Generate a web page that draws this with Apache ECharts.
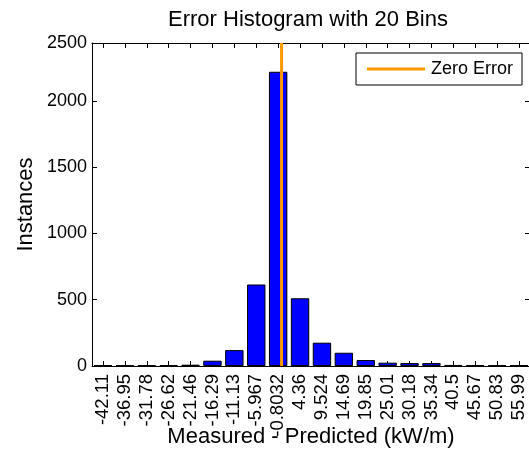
<!DOCTYPE html>
<html>
<head>
<meta charset="utf-8">
<script src="https://cdn.jsdelivr.net/npm/echarts@6/dist/echarts.min.js"></script>
<style>
html,body{margin:0;padding:0;background:#fff;}
#chart{width:529px;height:452px;}
</style>
</head>
<body>
<div id="chart"></div>
<script>
// Tick labels (bin centres) of the histogram
const binLabels = ['-42.11','-36.95','-31.78','-26.62','-21.46','-16.29','-11.13','-5.967','-0.8032','4.36','9.524','14.69','19.85','25.01','30.18','35.34','40.5','45.67','50.83','55.99'];
// Instances per bin
const binCounts = [6, 5, 6, 7, 10, 40, 120, 615, 2220, 511, 176, 100, 45, 25, 22, 22, 8, 6, 5, 6];
// Zero error reference line (x value)
const zeroError = [0];
const yTickLabels = ['0','500','1000','1500','2000','2500'];
const yMax = 2437;

const centers = binLabels.map(Number);
const binW = (centers[centers.length-1] - centers[0]) / (centers.length - 1);
const xMin = centers[0] - binW/2;
const xMax = centers[centers.length-1] + binW/2;

const FONT = 'Liberation Sans, Arial, sans-serif';
const chart = echarts.init(document.getElementById('chart'), null, {renderer:'canvas'});
const grid = {left: 92, top: 43, width: 438, height: 323, containLabel: false, outerBoundsMode: 'none'};

chart.setOption({
  animation: false,
  backgroundColor: '#fff',
  title: {
    text: 'Error Histogram with 20 Bins',
    left: 308, top: 9, padding: 0, textAlign: 'center',
    textStyle: {fontFamily: FONT, fontSize: 22, fontWeight: 'normal', color: '#000'}
  },
  legend: {
    data: [{name: 'Zero Error', icon: 'rect'}],
    left: 356, top: 53,
    padding: [7, 9, 7, 11],
    itemWidth: 58, itemHeight: 3, itemGap: 6,
    borderColor: '#000', borderWidth: 1, backgroundColor: '#fff',
    textStyle: {fontFamily: FONT, fontSize: 18, color: '#000', padding: [0,0,0,1]}
  },
  grid: grid,
  xAxis: [
    {
      type: 'category', data: binLabels, position: 'bottom', gridIndex: 0,
      name: 'Measured - Predicted (kW/m)', nameLocation: 'middle', nameGap: 60,
      nameMoveOverlap: false,
      nameTextStyle: {fontFamily: FONT, fontSize: 22, color: '#000'},
      axisLine: {show: true, onZero: false, lineStyle: {color: '#000', width: 1}},
      axisTick: {show: true, inside: true, alignWithLabel: true, length: 5, lineStyle: {color: '#000'}},
      axisLabel: {rotate: 90, margin: 8, interval: 0, fontFamily: FONT, fontSize: 18.5, color: '#000'},
      splitLine: {show: false}
    },
    {
      type: 'category', data: binLabels, position: 'top', gridIndex: 0,
      axisLine: {show: true, onZero: false, lineStyle: {color: '#000', width: 1}},
      axisTick: {show: true, inside: true, alignWithLabel: true, length: 5, interval: 0, lineStyle: {color: '#000'}},
      axisLabel: {show: false}, splitLine: {show: false}
    },
    {
      type: 'value', min: xMin, max: xMax, show: false, gridIndex: 0,
      axisLine: {onZero: false}
    }
  ],
  yAxis: [
    {
      type: 'value', min: 0, max: yMax, interval: 500, position: 'left',
      name: 'Instances', nameLocation: 'middle', nameGap: 55,
      nameMoveOverlap: false,
      nameTextStyle: {fontFamily: FONT, fontSize: 22, color: '#000'},
      axisLine: {show: true, onZero: false, lineStyle: {color: '#000', width: 1}},
      axisTick: {show: true, inside: true, length: 5, lineStyle: {color: '#000'}},
      axisLabel: {margin: 5, fontFamily: FONT, fontSize: 18, color: '#000',
        formatter: function(v){ const i = Math.round(v/500); return v >= yMax - 1 ? yTickLabels[yTickLabels.length-1] : yTickLabels[i]; }},
      splitLine: {show: false}
    },
    {
      type: 'value', min: 0, max: yMax, interval: 500, position: 'right',
      axisLine: {show: true, onZero: false, lineStyle: {color: '#000', width: 1}},
      axisTick: {show: true, inside: true, length: 5, lineStyle: {color: '#000'}},
      axisLabel: {show: false}, splitLine: {show: false}
    }
  ],
  series: [
    {
      type: 'bar', name: 'Histogram', data: binCounts,
      xAxisIndex: 0, yAxisIndex: 0,
      barWidth: '84%',
      itemStyle: {color: '#0000ff', borderColor: '#000', borderWidth: 1},
      z: 2
    },
    {
      type: 'line', name: 'Zero Error',
      xAxisIndex: 2, yAxisIndex: 0,
      data: [[zeroError[0], 0], [zeroError[0], yMax]],
      symbol: 'none', showSymbol: false,
      lineStyle: {color: '#ff9900', width: 3},
      itemStyle: {color: '#ff9900'},
      z: 3
    }
  ]
});
</script>
</body>
</html>
